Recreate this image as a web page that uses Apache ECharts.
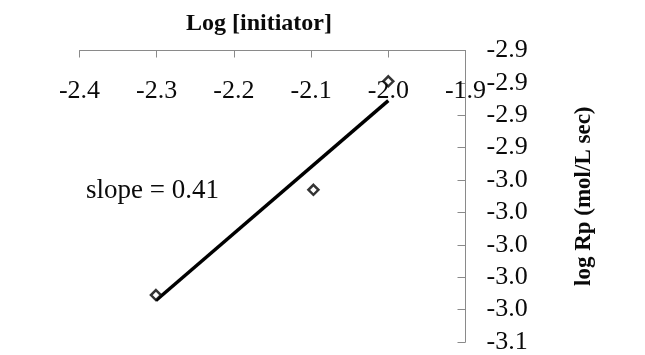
<!DOCTYPE html>
<html>
<head>
<meta charset="utf-8">
<script src="https://cdn.jsdelivr.net/npm/echarts@6/dist/echarts.min.js"></script>
<style>
  html, body { margin: 0; padding: 0; background: #fff; }
  #chart { width: 645px; height: 355px; }
</style>
</head>
<body>
<div id="chart"></div>
<script>
// log of initiator concentration and log of polymerisation rate
const logInitiator = [-2.301, -2.097, -2.0];
const logRp = [-3.031, -2.966, -2.899];
const slope = 0.41;

const xTicks = { min: -2.4, max: -1.9, step: 0.1 };
const yTicks = { min: -3.06, max: -2.88, step: 0.02 };

// straight trend line with the stated slope, passing through the mean point
const mean = a => a.reduce((s, v) => s + v, 0) / a.length;
const intercept = mean(logRp) - slope * mean(logInitiator);
const xLo = Math.min(...logInitiator), xHi = Math.max(...logInitiator);
const trend = [[xLo, slope * xLo + intercept], [xHi, slope * xHi + intercept]];

const serif = 'Liberation Serif';
const axisGray = '#8a8a8a';
const ink = '#0a0a0a';

const chart = echarts.init(document.getElementById('chart'), null, { renderer: 'canvas' });
chart.setOption({
  animation: false,
  backgroundColor: '#fff',
  title: {
    text: 'Log [initiator]',
    left: 181,
    top: 7,
    textStyle: { fontFamily: serif, fontWeight: 'bold', fontSize: 24, color: ink }
  },
  grid: { left: 79.5, right: 179.5, top: 50.5, bottom: 10 },
  xAxis: {
    type: 'value',
    position: 'top',
    min: xTicks.min,
    max: xTicks.max,
    interval: xTicks.step,
    splitLine: { show: false },
    axisLine: { onZero: false, lineStyle: { color: axisGray, width: 1 } },
    axisTick: { inside: true, length: 7, lineStyle: { color: axisGray } },
    axisLabel: {
      inside: true,
      margin: 28,
      fontFamily: serif,
      fontSize: 26,
      color: ink,
      formatter: v => v.toFixed(1)
    }
  },
  yAxis: {
    type: 'value',
    position: 'right',
    min: yTicks.min,
    max: yTicks.max,
    interval: yTicks.step,
    splitLine: { show: false },
    axisLine: { onZero: false, lineStyle: { color: axisGray, width: 1 } },
    axisTick: { inside: true, length: 8, lineStyle: { color: axisGray } },
    axisLabel: {
      margin: 21,
      fontFamily: serif,
      fontSize: 26,
      color: ink,
      formatter: v => v.toFixed(1)
    },
    name: 'log Rp (mol/L sec)',
    nameLocation: 'middle',
    nameRotate: 90,
    nameGap: 107,
    nameTextStyle: { fontFamily: serif, fontWeight: 'bold', fontSize: 23, color: ink }
  },
  graphic: [{
    type: 'text',
    left: 86,
    top: 177,
    style: { text: 'slope = 0.41', font: '27px "Liberation Serif"', fill: ink }
  }],
  series: [
    {
      type: 'line',
      data: trend,
      showSymbol: false,
      lineStyle: { color: '#000', width: 3.5 },
      z: 2
    },
    {
      type: 'scatter',
      data: logInitiator.map((x, i) => [x, logRp[i]]),
      symbol: 'diamond',
      symbolSize: 10,
      itemStyle: { color: '#fff', borderColor: '#000', borderWidth: 2.5 },
      z: 3
    }
  ]
});
</script>
</body>
</html>
